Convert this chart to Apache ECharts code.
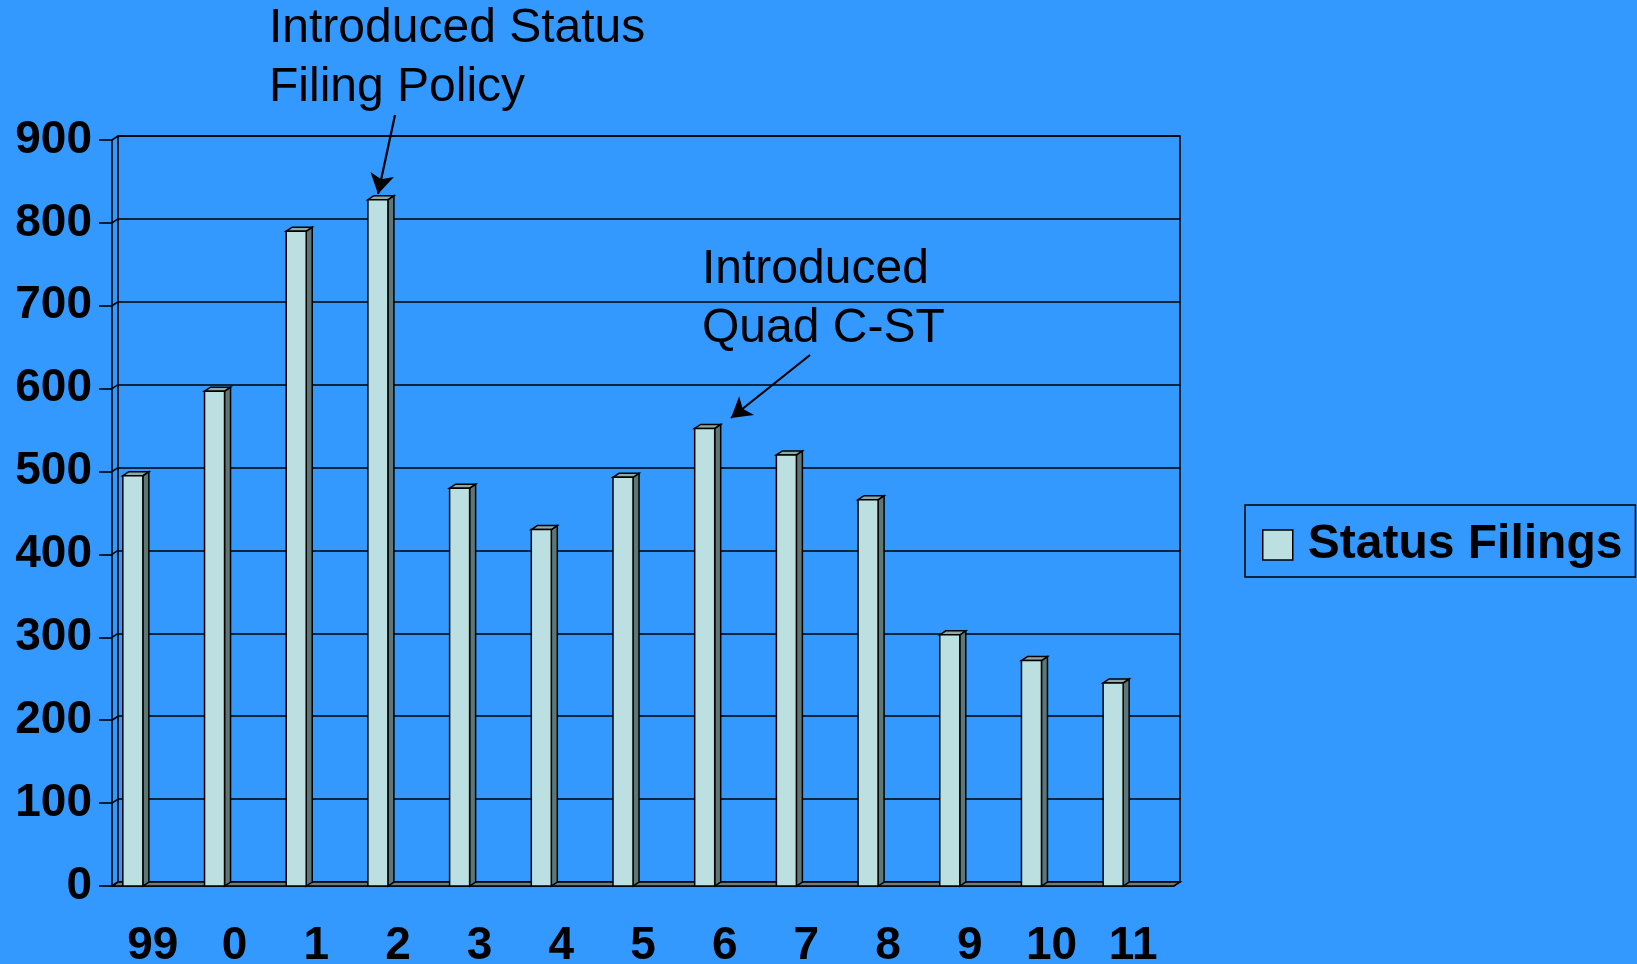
<!DOCTYPE html>
<html>
<head>
  <meta charset="utf-8">
  <title>Status Filings</title>
  <script src="https://cdn.jsdelivr.net/npm/echarts@6/dist/echarts.min.js"></script>
  <style>
    html, body { margin: 0; padding: 0; background: #3399FF; }
  </style>
</head>
<body>
<div id="main" style="width: 1637px;height:964px;"></div>
<script type="text/javascript">
  // data
  var years = ['99', '0', '1', '2', '3', '4', '5', '6', '7', '8', '9', '10', '11'];
  var filings = [495, 597, 790, 828, 480, 430, 493, 552, 520, 466, 303, 272, 245];
  var yTicks = [0, 100, 200, 300, 400, 500, 600, 700, 800, 900];
  var seriesName = 'Status Filings';

  var font = "'Liberation Sans', Arial, sans-serif";
  var DX = 6, DY = 4;   // depth of the 3d walls
  var LW = 1.6;

  var myChart = echarts.init(document.getElementById('main'));

  // 3d column: front face, side face, top face
  function renderBar(params, api) {
    var c = api.coord([api.value(0), api.value(1)]);
    var b = api.coord([api.value(0), 0]);
    var l = c[0] - 30, r = c[0] - 10;
    var st = { stroke: '#000', lineWidth: 1.5 };
    return {
      type: 'group',
      children: [
        { type: 'polygon', shape: { points: [[r - DX, c[1] + DY], [r, c[1]], [r, b[1]], [r - DX, b[1] + DY]] },
          style: Object.assign({ fill: '#5F7676' }, st) },
        { type: 'polygon', shape: { points: [[l - DX, c[1] + DY], [l, c[1]], [r, c[1]], [r - DX, c[1] + DY]] },
          style: Object.assign({ fill: '#8FA9A9' }, st) },
        { type: 'rect', shape: { x: l - DX, y: c[1] + DY, width: r - l, height: b[1] - c[1] },
          style: Object.assign({ fill: '#BCE0E2' }, st) }
      ]
    };
  }

  option = {
    backgroundColor: '#3399FF',
    animation: false,
    grid: [
      { left: 118, top: 136, width: 1062, height: 746, outerBoundsMode: 'none', containLabel: false,
        show: true, borderColor: '#000', borderWidth: LW, backgroundColor: 'transparent' },
      { left: 112, top: 140, width: 1062, height: 746, outerBoundsMode: 'none', containLabel: false }
    ],
    legend: {
      left: 1245, top: 505,
      data: [{ name: seriesName, icon: 'rect' }],
      itemWidth: 30, itemHeight: 30,
      itemStyle: { color: '#BCE0E2', borderColor: '#000', borderWidth: 1.5 },
      borderColor: '#000', borderWidth: 1.5,
      padding: [10, 13, 2, 17],
      textStyle: { fontFamily: font, fontWeight: 'bold', fontSize: 48, color: '#000', lineHeight: 48, padding: [12, 0, 0, 10] }
    },
    xAxis: [
      { gridIndex: 0, type: 'category', data: years, axisLine: { show: false }, axisTick: { show: false }, axisLabel: { show: false } },
      { gridIndex: 1, type: 'category', data: years,
        axisLine: { lineStyle: { color: '#000', width: LW } },
        axisTick: { length: 12, lineStyle: { color: '#000', width: LW } },
        axisLabel: { margin: 37, fontFamily: font, fontWeight: 'bold', fontSize: 46, color: '#000' } }
    ],
    yAxis: [
      { gridIndex: 0, type: 'value', min: 0, max: 900, interval: 100,
        axisLine: { show: false }, axisTick: { show: false }, axisLabel: { show: false },
        splitLine: { lineStyle: { color: '#000', width: LW } } },
      { gridIndex: 1, type: 'value', min: 0, max: 900, interval: 100,
        axisLine: { show: true, lineStyle: { color: '#000', width: LW } },
        axisTick: { show: true, length: 13, lineStyle: { color: '#000', width: LW } },
        axisLabel: { margin: 20, padding: [6, 0, 0, 0], fontFamily: font, fontWeight: 'bold', fontSize: 46, color: '#000' },
        splitLine: { show: false } }
    ],
    series: [
      {
        name: seriesName,
        type: 'custom',
        xAxisIndex: 0, yAxisIndex: 0,
        itemStyle: { color: '#BCE0E2' },
        renderItem: renderBar,
        data: years.map(function (y, i) { return [i, filings[i]]; }),
        z: 3,
        markLine: {
          silent: true,
          symbol: ['none', 'arrow'],
          symbolSize: [18, 20],
          label: { show: false },
          lineStyle: { color: '#000', width: 2.2, type: 'solid' },
          data: [
            [{ x: 395, y: 115 }, { x: 378, y: 194 }],
            [{ x: 810, y: 355 }, { x: 731, y: 418 }]
          ]
        }
      }
    ],
    graphic: [
      { type: 'text', left: 269, top: -1, style: { text: 'Introduced Status\nFiling Policy', font: '48px ' + font, fill: '#000', lineHeight: 59 } },
      { type: 'text', left: 702, top: 240, style: { text: 'Introduced\nQuad C-ST', font: '48px ' + font, fill: '#000', lineHeight: 59 } }
    ]
  };

  myChart.setOption(option);

  // floor and the small side-wall edges of the 3d box
  var extra = [];
  var y0 = myChart.convertToPixel({ yAxisIndex: 0 }, 0);
  var xl = 118, xr = 1180;
  extra.push({ type: 'polygon', z: 1, shape: { points: [[xl, y0], [xr, y0], [xr - DX, y0 + DY], [xl - DX, y0 + DY]] },
    style: { fill: '#6E7C7C', stroke: '#000', lineWidth: LW } });
  yTicks.forEach(function (v) {
    var y = myChart.convertToPixel({ yAxisIndex: 0 }, v);
    extra.push({ type: 'line', z: 1, shape: { x1: xl - DX, y1: y + DY, x2: xl, y2: y }, style: { stroke: '#000', lineWidth: LW } });
  });
  myChart.setOption({ graphic: option.graphic.concat(extra) });
</script>
</body>
</html>
